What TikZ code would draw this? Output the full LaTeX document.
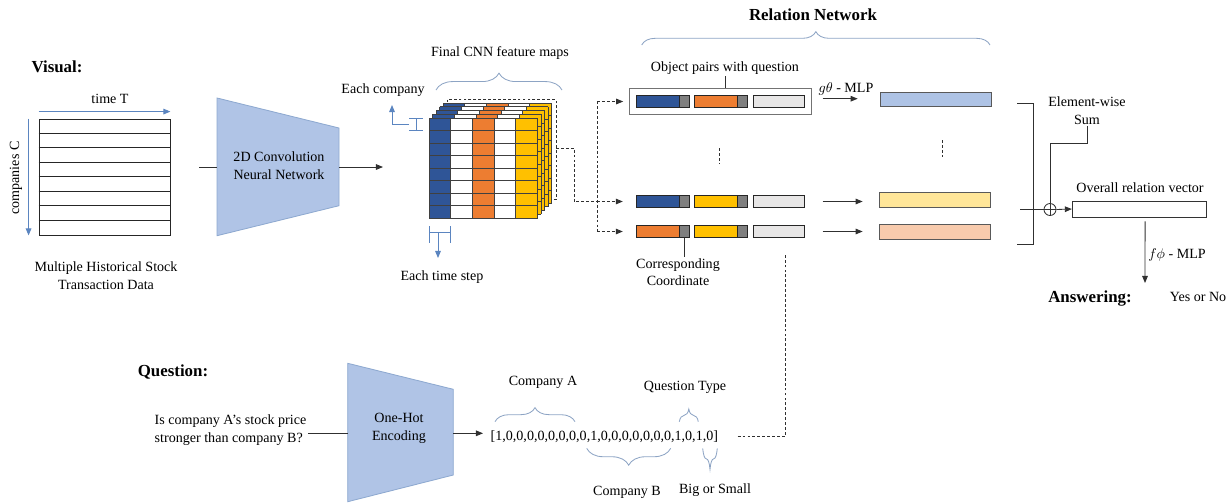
\documentclass[tikz,border=0pt]{standalone}
\usepackage{fontspec}
\setmainfont{Liberation Serif}
\usepackage{tikz}
\usetikzlibrary{arrows.meta,positioning,decorations.pathreplacing,fit,calc}
\usepackage{xcolor}
\definecolor{mapblue}{HTML}{2F5597}
\definecolor{maporange}{HTML}{ED7D31}
\definecolor{mapyellow}{HTML}{FFC000}
\definecolor{crdgray}{HTML}{7F7F7F}
\definecolor{qgray}{HTML}{E7E6E6}
\definecolor{outblue}{HTML}{AEC3E5}
\definecolor{outyellow}{HTML}{FFE699}
\definecolor{outpeach}{HTML}{F8CBAD}
\definecolor{netfill}{HTML}{B0C4E6}
\definecolor{netedge}{HTML}{8EA9D0}
\definecolor{arrowblue}{HTML}{5B85C0}
\definecolor{bracecol}{HTML}{8DA4C4}
\definecolor{linegray}{HTML}{303030}
\tikzset{
    rntext/.style={align=center, font=\fontsize{10}{12.5}\selectfont, inner sep=1pt},
    rntitle/.style={font=\fontsize{12}{14}\selectfont\bfseries, inner sep=1pt},
    rnnet/.style={draw=netedge, fill=netfill, line width=0.6pt},
    rnarrow/.style={-{Triangle[length=5pt,width=4pt]}, draw=linegray, line width=0.6pt},
    rnblue/.style={draw=arrowblue, line width=0.7pt},
    rndash/.style={draw=linegray, line width=0.6pt, dash pattern=on 2pt off 1.5pt},
    rnline/.style={draw=linegray, line width=0.5pt},
    rnbrace/.style={draw=bracecol, line width=0.6pt, decorate, decoration={brace, amplitude=#1}}
}
\begin{document}
\begin{tikzpicture}[x=0.025cm, y=-0.025cm,
        mapline/.style={draw=black!75, line width=0.45pt},
        cell/.style={draw=black!85, line width=0.5pt, inner sep=0pt, outer sep=0pt, minimum height=0.31cm},
        featcell/.style={cell, minimum width=1.0875cm},
        crdcell/.style={cell, fill=crdgray, minimum width=0.235cm},
        qcell/.style={cell, fill=qgray, minimum width=1.29cm},
        outbar/.style={draw=black!65, line width=0.5pt, inner sep=0pt, minimum width=2.78cm, minimum height=0.36cm}
    ]
    \useasboundingbox (0,0) rectangle (1232,502);

    % ---- visual input ----
    \node[rntitle] (visual) at (57,67) {Visual:};
    \node[draw=black!85, line width=0.6pt, inner sep=0pt, minimum width=3.275cm, minimum height=2.9cm] (grid) at (104.5,177) {};
    \foreach \r in {1,...,7}
        \draw[draw=black!85, line width=0.6pt] (grid.north west) ++(0,{14.5*\r}) -- ++(131,0);
    \node[rntext] (timeT) at (110,99) {time T};
    \draw[rnblue, -{Triangle[length=5pt,width=4pt]}] ([yshift=0.175cm]grid.north west) -- ([yshift=0.175cm]grid.north east);
    \node[rntext, rotate=90] (compC) at (16,178) {companies C};
    \draw[rnblue, -{Triangle[length=5pt,width=4pt]}] ([xshift=-0.25cm]grid.north west) -- ([xshift=-0.25cm]grid.south west);
    \node[rntext] (histlbl) at (106,275.5) {Multiple Historical Stock\\Transaction Data};

    % ---- 2D CNN ----
    \draw[rnnet] (217,98) -- (339,128) -- (339,205.7) -- (217,235.7) -- cycle;
    \coordinate (cnnL) at (217,167);
    \coordinate (cnnR) at (339,167);
    \coordinate (gridout) at (199,167);
    \coordinate (mapsin) at (383,167);
    \node[rntext] (cnnlbl) at (279,165.5) {2D Convolution\\Neural Network};
    \draw[rnline] (gridout) -- (cnnL);
    \draw[rnarrow] (cnnR) -- (mapsin);

    % ---- stacked feature maps, back to front ----
    \draw[rndash] (447,99.5) rectangle (556,199.5);
    \foreach \k in {4,3,2,1,0} {
        \begin{scope}[shift={({3.5*\k},{-3.75*\k})}]
            \foreach \c/\col in {0/mapblue,1/white,2/maporange,3/white,4/mapyellow}
                \fill[\col] ({429+21.7*\c},118) rectangle ++(21.7,100);
            \foreach \r in {0,...,8}
                \draw[mapline] (429,{118+12.5*\r}) -- ++(108.5,0);
            \foreach \c in {0,...,5}
                \draw[mapline] ({429+21.7*\c},118) -- ++(0,100);
        \end{scope}
    }
    \coordinate (mapsout) at (556,148);
    \node[rntext] (mapslbl) at (500,53) {Final CNN feature maps};
    \draw[rnbrace=12pt] (436,90) -- (562,90);

    % row and column markers
    \node[rntext] (eachco) at (383,90) {Each company};
    \draw[rnblue] (409,118.3) -- (423,118.3) (416,118.3) -- (416,130.8) (409,130.8) -- (423,130.8);
    \draw[rnblue, -{Triangle[length=5pt,width=4pt]}] (409,124.5) -| (392,105);
    \node[rntext] (eachts) at (442,277) {Each time step};
    \draw[rnblue] (429,226) -- (429,243) (429,232.7) -- (450.7,232.7) (450.7,226) -- (450.7,243);
    \draw[rnblue, -{Triangle[length=5pt,width=4pt]}] (438,232.7) -- (438,258);

    % ---- relation network ----
    \node[rntitle] (rnlbl) at (813,15) {Relation Network};
    \draw[rnbrace=9.5pt] (641.7,45) -- (990,45);

    \foreach \rw/\yy/\ca/\cb in {p1/101.5/mapblue/maporange, p2/201.5/mapblue/mapyellow, p3/231.5/maporange/mapyellow} {
        \node[featcell, fill=\ca, anchor=west] (\rw a) at (636,\yy) {};
        \node[crdcell, anchor=west] (\rw ac) at (\rw a.east) {};
        \node[featcell, fill=\cb, anchor=west] (\rw b) at (694,\yy) {};
        \node[crdcell, anchor=west] (\rw bc) at (\rw b.east) {};
        \node[qcell, anchor=west] (\rw q) at (753,\yy) {};
    }
    \node[fit=(p1a)(p1q), draw=black!55, line width=0.6pt, inner sep=0.16cm] (pbox) {};
    \node[rntext] (objlbl) at (725,68) {Object pairs with question};
    \draw[rnline] (objlbl.south) -- (objlbl.south |- pbox.north);

    \node[outbar, fill=outblue] (o1) at (935.5,99.5) {};
    \node[outbar, fill=outyellow] (o2) at (934.5,200) {};
    \node[outbar, fill=outpeach] (o3) at (934.5,232) {};
    \node[rntext] (gmlp) at (846,89) {$g\theta$ - MLP};
    \draw[rnarrow] ([xshift=0.28cm,yshift=0.07cm]pbox.east) -- ++(0.875cm,0);
    \draw[rnarrow] ([xshift=0.45cm]p2q.east) -- ++(1cm,0);
    \draw[rnarrow] ([xshift=0.45cm]p3q.east) -- ++(1cm,0);
    \draw[rndash] (719,148) -- (719,163);
    \draw[rndash] (942,140) -- (942,157);

    \node[rntext] (corrlbl) at (678,272) {Corresponding\\Coordinate};
    \draw[rnline] (p3ac.south) -- (p3ac.south |- corrlbl.north);

    % feature maps into the pairs
    \coordinate (fanx) at (597,0);
    \draw[rndash] (mapsout) -- ++(18,0) |- (fanx |- p2a.west);
    \draw[rndash] (fanx |- pbox.west) -- (fanx |- p3a.west);
    \draw[rndash, -{Triangle[length=5pt,width=4pt]}] (fanx |- pbox.west) -- ([xshift=-0.15cm]pbox.west);
    \draw[rndash, -{Triangle[length=5pt,width=4pt]}] (fanx |- p2a.west) -- ([xshift=-0.33cm]p2a.west);
    \draw[rndash, -{Triangle[length=5pt,width=4pt]}] (fanx |- p3a.west) -- ([xshift=-0.33cm]p3a.west);

    % ---- sum and answer ----
    \draw[rnline, line width=0.6pt] (1017,103) -- (1033,103) -- (1033,244) -- (1017,244);
    \node[circle, draw=black!80, line width=0.6pt, inner sep=0pt, minimum size=0.3cm] (sum) at (1050,209.5) {};
    \draw[black!80, line width=0.6pt] (sum.north) -- (sum.south) (sum.west) -- (sum.east);
    \node[draw=black!80, line width=0.6pt, inner sep=0pt, minimum width=3.36cm, minimum height=0.4cm] (overall) at (1139.5,209) {};
    \coordinate (brkt) at (1020,209.5);
    \draw[rnline] (brkt) -- (sum.west);
    \draw[rnarrow] (sum.east) -- (overall.west);
    \node[rntext] (sumlbl) at (1087,110.5) {Element-wise\\Sum};
    \draw[rnline] (sumlbl.south) -- ++(0,17) -| (sum.north);
    \node[rntext] (overlbl) at (1140,188) {Overall relation vector};
    \coordinate (ans) at (1145,283);
    \draw[rnarrow] ([xshift=0.14cm,yshift=-0.1cm]overall.south) -- (ans);
    \node[rntext] (fmlp) at (1177,255) {$f\phi$ - MLP};
    \node[rntitle] (answer) at (1090,298) {Answering:};
    \node[rntext] (yesno) at (1198,297) {Yes or No};

    % ---- question encoding ----
    \node[rntitle] (question) at (173,372) {Question:};
    \node[rntext, align=left] (qtext) at (230.5,430) {Is company A's stock price\\stronger than company B?};
    \draw[rnnet] (347.7,363.3) -- (453.3,389.3) -- (453.3,475) -- (347.7,501.7) -- cycle;
    \coordinate (ohL) at (347.7,433.3);
    \coordinate (ohR) at (453.3,433.3);
    \node[rntext] (ohlbl) at (399,428.3) {One-Hot\\Encoding};
    \node[rntext, anchor=west] (vec) at (489,436.7) {[1,0,0,0,0,0,0,0,0,1,0,0,0,0,0,0,0,1,0,1,0]};
    \draw[rnline] (qtext.east |- ohL) -- (ohL);
    \draw[rnarrow, shorten >=0.15cm] (ohR) -- (ohR -| vec.west);

    \node[rntext] (coA) at (543,382) {Company A};
    \draw[rnbrace=10pt] (495,421.7) -- (575,421.7);
    \node[rntext] (qtype) at (685,387) {Question Type};
    \draw[rnbrace=9pt] (679.3,421.7) -- (698.3,421.7);
    \node[rntext] (coB) at (627,492) {Company B};
    \draw[rnbrace=12pt] (670.7,448.3) -- (586.7,448.3);
    \node[rntext] (bigsm) at (715,490) {Big or Small};
    \draw[rnbrace=15pt] (717.3,448.3) -- (702.7,448.3);

    \coordinate (qup) at (785,255);
    \draw[rndash] ([xshift=0.45cm]vec.east) -| (qup);
\end{tikzpicture}
\end{document}
